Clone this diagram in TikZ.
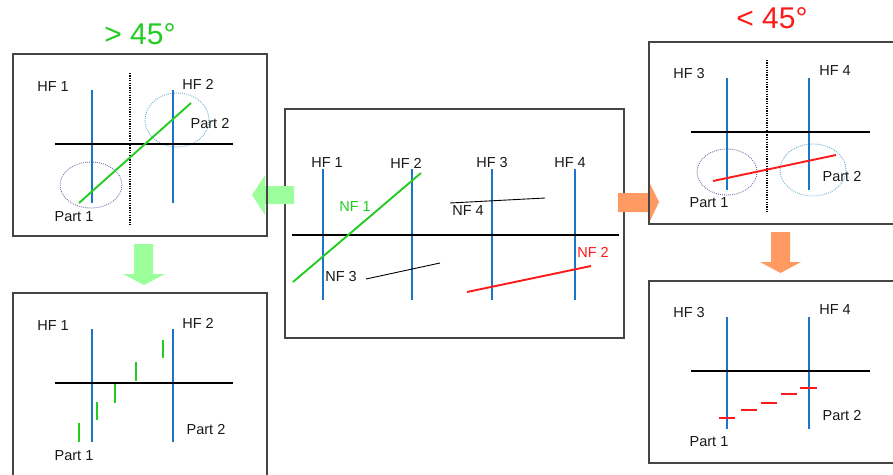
\documentclass[tikz,border=0pt]{standalone}
\usepackage{fontspec}
\setmainfont{Liberation Sans}
\begin{document}
\definecolor{hfblue}{HTML}{1C75C8}
\definecolor{nfgreen}{HTML}{22CC22}
\definecolor{nfred}{HTML}{FF1A1A}
\definecolor{arrgreen}{HTML}{9CFF9C}
\definecolor{arrorange}{HTML}{FF9A63}
\definecolor{frame}{HTML}{454545}
\definecolor{ringpurple}{HTML}{7A6AA8}
\definecolor{ringblue}{HTML}{6AAFD0}
\begin{tikzpicture}[x=1pt,y=-1pt,
  panel/.style={draw=frame,line width=1.3pt},
  hf/.style={draw=hfblue,line width=2.4pt},
  axis/.style={draw=black,line width=2.4pt},
  sep/.style={draw=black,line width=1.3pt,dash pattern=on 1.2pt off 1.2pt},
  ring/.style={line width=0.9pt,dash pattern=on 0.9pt off 1.1pt},
  seg/.style={line width=1.9pt},
  lbl/.style={font=\fontsize{14.5}{16}\selectfont,text=black!90,inner sep=0pt},
  title/.style={font=\fontsize{30}{32}\selectfont,inner sep=0pt}]
\useasboundingbox (0,0) rectangle (893,474);

% ---------- centre panel: overview ----------
\draw[panel] (285,109) rectangle (624,338);
\foreach \x/\n in {323/1,412/2,492/3,575/4}{
  \draw[hf] (\x,169) -- (\x,300);
}
\draw[axis] (292,235) -- (619,235);
\node[lbl] (c1) at (327,163) {HF 1};
\node[lbl] (c2) at (406,163) {HF 2};
\node[lbl] (c3) at (492,163) {HF 3};
\node[lbl] (c4) at (570,163) {HF 4};
\coordinate (nf1a) at (293,282); \coordinate (nf1b) at (421,173);
\draw[nfgreen,seg] (nf1a) -- (nf1b);
\node[lbl,text=nfgreen] (nf1) at (355,207) {NF 1};
\coordinate (nf4a) at (450,203); \coordinate (nf4b) at (545,198);
\draw[black,line width=0.9pt] (nf4a) -- (nf4b);
\node[lbl] (nf4) at (468,211) {NF 4};
\coordinate (nf3a) at (366,279); \coordinate (nf3b) at (440,263);
\draw[black,line width=0.9pt] (nf3a) -- (nf3b);
\node[lbl] (nf3) at (341,277) {NF 3};
\coordinate (nf2a) at (467,292); \coordinate (nf2b) at (591,266);
\draw[nfred,seg] (nf2a) -- (nf2b);
\node[lbl,text=nfred] (nf2) at (593,252) {NF 2};

% ---------- transition arrows ----------
\fill[arrgreen] (294,186) -- (265,186) -- (265,175) -- (252,195) -- (265,215) -- (265,204) -- (294,204) -- cycle;
\fill[arrgreen] (134,244) -- (153,244) -- (153,274) -- (165,274) -- (144,285) -- (123,274) -- (134,274) -- cycle;
\fill[arrorange] (618,193) -- (649,193) -- (649,182) -- (659,202) -- (649,223) -- (649,212) -- (618,212) -- cycle;
\fill[arrorange] (771,232) -- (790,232) -- (790,262) -- (801,262) -- (780.5,273) -- (760,262) -- (771,262) -- cycle;

% ---------- steep case: > 45 ----------
\node[title,text=nfgreen] (tl) at (140,34) {> 45°};
\draw[panel] (13,54) rectangle (267,236);
\draw[sep] (130,73) -- (130,225);
\draw[ring,draw=ringpurple] (91,185) ellipse [x radius=31,y radius=23];
\draw[ring,draw=ringblue] (177,120) ellipse [x radius=32,y radius=27];
\draw[hf] (92,90) -- (92,203);
\draw[hf] (173,90) -- (173,203);
\draw[axis] (55,144) -- (233,144);
\coordinate (s1) at (79,203); \coordinate (s2) at (191,103);
\draw[nfgreen,seg] (s1) -- (s2);
\node[lbl] (a1) at (53,87) {HF 1};
\node[lbl] (a2) at (198,84) {HF 2};
\node[lbl] (ap2) at (210,124) {Part 2};
\node[lbl] (ap1) at (74,217) {Part 1};

% steep case, split into vertical pieces
\draw[panel] (13,293) rectangle (267,480);
\draw[hf] (92,329) -- (92,442);
\draw[hf] (173,329) -- (173,442);
\draw[axis] (55,383) -- (233,383);
\foreach \x/\ya/\yb in {79/423/442, 97/402/420, 115/384/403, 136/362/381, 163/340/358}{
  \draw[nfgreen,seg] (\x,\ya) -- (\x,\yb);
}
\node[lbl] (b1) at (53,326) {HF 1};
\node[lbl] (b2) at (198,323) {HF 2};
\node[lbl] (bp2) at (206,429) {Part 2};
\node[lbl] (bp1) at (74,456) {Part 1};

% ---------- flat case: < 45 ----------
\node[title,text=nfred] (tr) at (772,18) {< 45°};
\draw[panel] (900,42) -- (649,42) -- (649,224) -- (900,224);
\draw[sep] (767,60) -- (767,212);
\draw[ring,draw=ringpurple] (727,172) ellipse [x radius=30,y radius=23];
\draw[ring,draw=ringblue] (813,170) ellipse [x radius=33,y radius=26];
\draw[hf] (727,78) -- (727,190);
\draw[hf] (809,78) -- (809,190);
\draw[axis] (691,132) -- (870,132);
\coordinate (f1) at (713,181); \coordinate (f2) at (836,155);
\draw[nfred,seg] (f1) -- (f2);
\node[lbl] (d3) at (689,74) {HF 3};
\node[lbl] (d4) at (835,71) {HF 4};
\node[lbl] (dp2) at (842,177) {Part 2};
\node[lbl] (dp1) at (709,203) {Part 1};

% flat case, split into horizontal pieces
\draw[panel] (900,281) -- (649,281) -- (649,463) -- (900,463);
\draw[hf] (727,317) -- (727,429);
\draw[hf] (809,317) -- (809,429);
\draw[axis] (691,371) -- (870,371);
\foreach \xa/\xb/\y in {719/735/418, 741/757/410, 761/777/403, 781/797/394, 800/817/388}{
  \draw[nfred,seg] (\xa,\y) -- (\xb,\y);
}
\node[lbl] (e3) at (689,313) {HF 3};
\node[lbl] (e4) at (835,310) {HF 4};
\node[lbl] (ep2) at (842,416) {Part 2};
\node[lbl] (ep1) at (709,442) {Part 1};
\end{tikzpicture}
\end{document}
